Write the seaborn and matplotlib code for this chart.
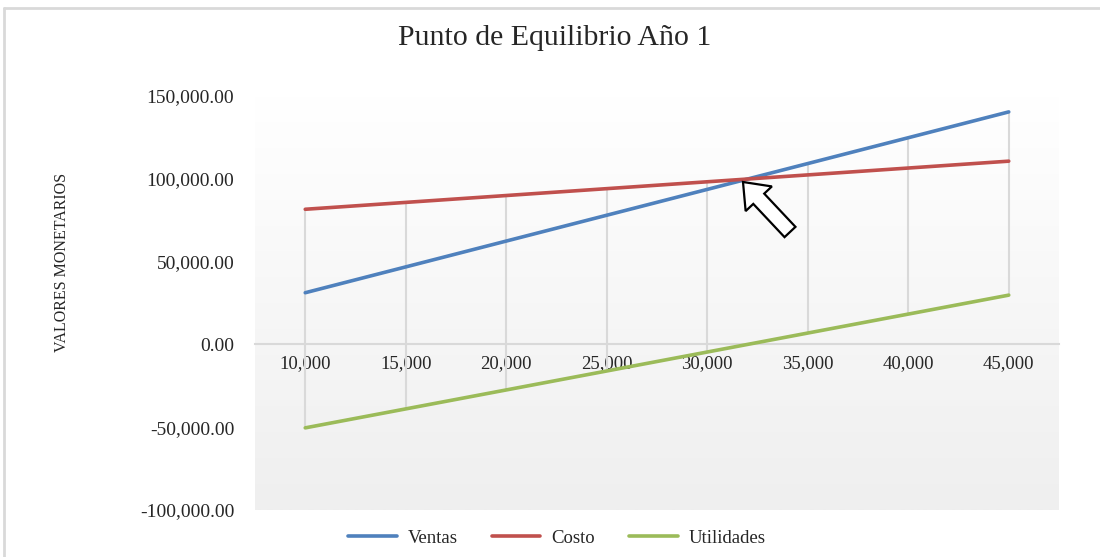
import numpy as np
import pandas as pd
import matplotlib
matplotlib.use("Agg")
import matplotlib.pyplot as plt
import seaborn as sns
from matplotlib.patches import FancyArrow
from matplotlib.lines import Line2D
from matplotlib.transforms import IdentityTransform
from matplotlib.colors import LinearSegmentedColormap

# ---- data ----
categories = ["10,000", "15,000", "20,000", "25,000", "30,000", "35,000", "40,000", "45,000"]
ventas = [31200, 46800, 62400, 78000, 93600, 109200, 124800, 140400]
costo = [81600, 85750, 89900, 94050, 98200, 102350, 106500, 110650]
utilidades = [-50400, -38950, -27500, -16050, -4600, 6850, 18300, 29750]
series_names = ["Ventas", "Costo", "Utilidades"]
colors = ["#4F81BD", "#C0504D", "#9BBB59"]
title = "Punto de Equilibrio Año 1"
ylabel = "VALORES MONETARIOS"
yticks = [-100000, -50000, 0, 50000, 100000, 150000]

sns.set_theme(style="white")
plt.rcParams["font.family"] = ["Liberation Serif", "DejaVu Serif"]

idx = np.arange(len(categories))
df = pd.DataFrame({
    "x": np.tile(idx, 3),
    "valor": ventas + costo + utilidades,
    "serie": np.repeat(series_names, len(categories)),
})

fig = plt.figure(figsize=(11, 5.57), dpi=100)
ax = fig.add_axes([255 / 1100, 1 - 510 / 557, 804 / 1100, 414 / 557])

ymin, ymax = -100000, 150000
xmin, xmax = -0.5, len(categories) - 0.5

# gradient background (white at top, light grey at bottom)
cmap = LinearSegmentedColormap.from_list("g", ["#ffffff", "#efefef"])
grad = np.linspace(0, 1, 256).reshape(-1, 1)
ax.imshow(grad, extent=(xmin, xmax, ymin, ymax), aspect="auto", cmap=cmap,
          zorder=0, origin="upper")

# high-low lines
data = np.array([ventas, costo, utilidades])
ax.vlines(idx, data.min(axis=0), data.max(axis=0), color="#d9d9d9", lw=1.5, zorder=1)

sns.lineplot(data=df, x="x", y="valor", hue="serie", palette=colors,
             hue_order=series_names, lw=2.6, ax=ax, legend=False, zorder=3)

ax.set_xlim(xmin, xmax)
ax.set_ylim(ymin, ymax)
ax.set_xticks(idx)
ax.set_xticklabels(categories)
ax.set_yticks(yticks)
ax.set_yticklabels([f"{v:,.2f}" for v in yticks])
ax.tick_params(axis="both", length=0)
ax.tick_params(axis="x", pad=8, labelsize=13.5)
ax.tick_params(axis="y", pad=15, labelsize=14)
for s in ["top", "right", "left"]:
    ax.spines[s].set_visible(False)
ax.spines["bottom"].set_position(("data", 0))
ax.spines["bottom"].set_color("#d9d9d9")
ax.spines["bottom"].set_linewidth(1.5)
ax.spines["bottom"].set_zorder(2)
ax.set_xlabel("")
ax.set_ylabel("")
ax.grid(False)

fig.text(555 / 1100, 1 - 38 / 557, title, ha="center", va="center", fontsize=21.5)
fig.text(62 / 1100, 1 - 262 / 557, ylabel, ha="center", va="center",
         rotation=90, fontsize=11.5)

handles = [Line2D([], [], color=c, lw=2.6) for c in colors]
fig.legend(handles, series_names, loc="center", bbox_to_anchor=(557 / 1100, 1 - 538 / 557),
           ncol=3, frameon=False, fontsize=13.5, handlelength=2.6, handletextpad=0.6,
           columnspacing=1.8)

# block arrow
arrow = FancyArrow(790, 557 - 232, -47, 50, width=15, head_width=36, head_length=23,
                   length_includes_head=True, fc="white", ec="black", lw=1.6,
                   transform=IdentityTransform(), zorder=5)
fig.add_artist(arrow)

# figure border
fig.add_artist(Line2D([4, 1100], [557 - 8, 557 - 8], transform=IdentityTransform(),
                      color="#d9d9d9", lw=2))
fig.add_artist(Line2D([4, 4], [0, 557 - 8], transform=IdentityTransform(),
                      color="#d9d9d9", lw=2))

fig.savefig("out.png", dpi=100)
